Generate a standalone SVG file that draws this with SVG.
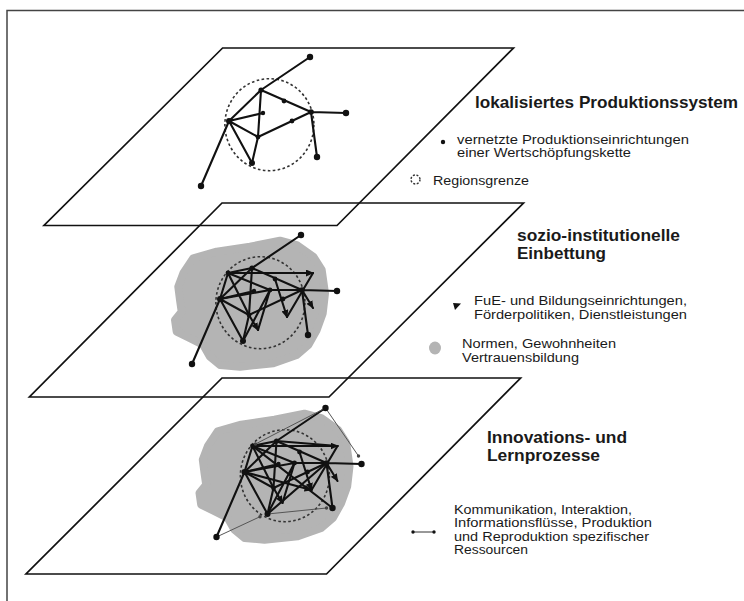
<svg xmlns="http://www.w3.org/2000/svg" xmlns:xlink="http://www.w3.org/1999/xlink" width="744" height="601" viewBox="0 0 744 601">
<style>
.t{font-family:"Liberation Sans",Arial,Helvetica,sans-serif;fill:#1a1a1a}
.h{font-size:17px;font-weight:bold}
.l{font-size:12px}
.plane{fill:none;stroke:#111;stroke-width:1.7;stroke-linejoin:miter}
.edge{fill:none;stroke:#111;stroke-width:2.1;stroke-linecap:round}
.thin{fill:none;stroke:#555;stroke-width:1}
.region{fill:none;stroke:#333;stroke-width:1.6;stroke-dasharray:2.6 2.4}
.blob{fill:#b4b4b4;stroke:#b4b4b4;stroke-width:8;stroke-linejoin:round}
.dot{fill:#111}
.sdot{fill:#444}
</style>
<defs>
<marker id="tri" viewBox="0 0 8 7" refX="7" refY="3.5" markerWidth="8" markerHeight="7" markerUnits="userSpaceOnUse" orient="auto">
<path d="M0,0 L8,3.5 L0,7 z" fill="#111"/>
</marker>
<polygon id="blobshape" class="blob" points="202.3,80.3 225.7,73.7 259,68.7 289,62.7 305.7,67 322.3,78.7 330.7,92 334,115.3 331.7,135.3 325.7,152 317.3,167 305.7,177 282.3,185.3 249,188.7 229,187 219,178.7 212.3,167 199,160.3 185.7,153.7 184,142 190.7,133.7 189,122 187.3,108.7 192.3,95.3"/>
<ellipse id="regionshape" class="region" cx="269.4" cy="124.7" rx="44.5" ry="46"/>
<path id="edges-base" class="edge" d="M310,57 L261,90 M261,90 L229,121 M261,90 L311,112 M311,112 L346,113 M311,112 L317,157 M261,90 L258,137 M229,121 L263,113 M258,137 L311,112 M258,137 L252,163 M229,121 L252,163 M229,121 L201,186 M229,121 L258,137"/>
<g id="edges-extra">
<path class="edge" d="M237,95 L229,121 M237,95 L279,112 M237,95 L258,137 M229,121 L279,112 L311,112 M322,95 L296,139 M279,112 L267,152 M252,163 L279,112 M261,90 L237,95"/>
<path class="edge" marker-end="url(#tri)" d="M237,95 L322,95"/>
<path class="edge" marker-end="url(#tri)" d="M284,101 L296,139"/>
<path class="edge" marker-end="url(#tri)" d="M311,112 L322,130"/>
<path class="edge" marker-end="url(#tri)" d="M258,137 L267,152"/>
</g>
<g id="dots-base">
<circle class="dot" cx="310" cy="57" r="3.2"/>
<circle class="dot" cx="261" cy="90" r="2.6"/>
<circle class="dot" cx="284" cy="101" r="2.4"/>
<circle class="dot" cx="311" cy="112" r="2.8"/>
<circle class="dot" cx="346" cy="113" r="3.2"/>
<circle class="dot" cx="263" cy="113" r="2.2"/>
<circle class="dot" cx="229" cy="121" r="3"/>
<circle class="dot" cx="292" cy="121" r="2.4"/>
<circle class="dot" cx="258" cy="137" r="2.4"/>
<circle class="dot" cx="317" cy="157" r="3.2"/>
<circle class="dot" cx="252" cy="163" r="3"/>
<circle class="dot" cx="201" cy="186" r="3.2"/>
</g>
<g id="dots-extra">
<circle class="dot" cx="237" cy="95" r="2.4"/>
<circle class="dot" cx="279" cy="112" r="2.4"/>
</g>
</defs>

<path d="M7,601 L7,10.5 L744,10.5" fill="none" stroke="#444" stroke-width="1.5"/>

<g id="layer-top">
<polygon class="plane" points="222.6,48 513.5,48 337,225.5 44,225.5"/>
<use xlink:href="#regionshape"/>
<g id="connectors-top"><use xlink:href="#edges-base"/></g>
<g id="nodes-top"><use xlink:href="#dots-base"/></g>
</g>

<g id="layer-middle">
<polygon class="plane" points="222,203 523.5,203 329,397 29.4,397"/>
<g transform="translate(-9,178)">
<use xlink:href="#blobshape"/>
<use xlink:href="#regionshape"/>
<g id="connectors-middle"><use xlink:href="#edges-base"/><use xlink:href="#edges-extra"/></g>
<g id="nodes-middle"><use xlink:href="#dots-base"/><use xlink:href="#dots-extra"/></g>
</g>
</g>

<g id="layer-bottom">
<polygon class="plane" points="222,378 520.6,378 326.5,574 26,574"/>
<g transform="translate(15.5,351)">
<use xlink:href="#blobshape"/>
<use xlink:href="#regionshape"/>
<g id="connectors-bottom">
<use xlink:href="#edges-base"/><use xlink:href="#edges-extra"/>
<path class="edge" d="M261,90 L322,95 M252,163 L311,112 M237,95 L317,157"/>
<path class="edge" marker-end="url(#tri)" d="M229,121 L296,139"/>
<path class="thin" d="M310,57 L343,105 M201,186 L244.5,165.7 M252,163 L311,157 M310,57 L240,93"/>
</g>
<g id="nodes-bottom">
<use xlink:href="#dots-base"/><use xlink:href="#dots-extra"/>
<circle class="sdot" cx="343" cy="105" r="1.7"/>
<circle class="sdot" cx="244.5" cy="165.7" r="1.7"/>
<circle class="sdot" cx="311" cy="157" r="1.7"/>
<circle class="sdot" cx="240" cy="93" r="1.7"/>
</g>
</g>
</g>

<g id="legend-top">
<text class="t h" x="475" y="108" textLength="263" lengthAdjust="spacingAndGlyphs">lokalisiertes Produktionssystem</text>
<g id="legend-node"><circle class="dot" cx="443" cy="142" r="2.2"/>
<text class="t l" x="457" y="143.5" textLength="232" lengthAdjust="spacingAndGlyphs">vernetzte Produktionseinrichtungen</text>
<text class="t l" x="457" y="157" textLength="174" lengthAdjust="spacingAndGlyphs">einer Wertschöpfungskette</text></g>
<g id="legend-region"><circle cx="415.5" cy="179.5" r="4.5" fill="none" stroke="#333" stroke-width="1.4" stroke-dasharray="2 1.6"/>
<text class="t l" x="433" y="185" textLength="96" lengthAdjust="spacingAndGlyphs">Regionsgrenze</text></g>
</g>

<g id="legend-middle">
<text class="t h" x="517" y="240.5" textLength="163" lengthAdjust="spacingAndGlyphs">sozio-institutionelle</text>
<text class="t h" x="517" y="258.5" textLength="89" lengthAdjust="spacingAndGlyphs">Einbettung</text>
<g id="legend-fue"><polygon points="453,303 461,303.5 455,310" fill="#111"/>
<text class="t l" x="474" y="304.5" textLength="213" lengthAdjust="spacingAndGlyphs">FuE- und Bildungseinrichtungen,</text>
<text class="t l" x="474" y="318.5" textLength="213" lengthAdjust="spacingAndGlyphs">Förderpolitiken, Dienstleistungen</text></g>
<g id="legend-normen"><ellipse cx="435" cy="348" rx="6" ry="6.5" fill="#b4b4b4"/>
<text class="t l" x="462" y="347.5" textLength="154" lengthAdjust="spacingAndGlyphs">Normen, Gewohnheiten</text>
<text class="t l" x="462" y="361.5" textLength="117" lengthAdjust="spacingAndGlyphs">Vertrauensbildung</text></g>
</g>

<g id="legend-bottom">
<text class="t h" x="487" y="442.5" textLength="140" lengthAdjust="spacingAndGlyphs">Innovations- und</text>
<text class="t h" x="487" y="460.5" textLength="113" lengthAdjust="spacingAndGlyphs">Lernprozesse</text>
<g id="legend-komm"><line x1="413" y1="532" x2="434" y2="532" stroke="#333" stroke-width="1"/>
<circle class="dot" cx="413" cy="532" r="1.7"/><circle class="dot" cx="434" cy="532" r="1.7"/>
<text class="t l" x="454" y="513.5" textLength="178" lengthAdjust="spacingAndGlyphs">Kommunikation, Interaktion,</text>
<text class="t l" x="454" y="527" textLength="198" lengthAdjust="spacingAndGlyphs">Informationsflüsse, Produktion</text>
<text class="t l" x="454" y="540.5" textLength="195" lengthAdjust="spacingAndGlyphs">und Reproduktion spezifischer</text>
<text class="t l" x="454" y="554" textLength="74" lengthAdjust="spacingAndGlyphs">Ressourcen</text></g>
</g>
</svg>
